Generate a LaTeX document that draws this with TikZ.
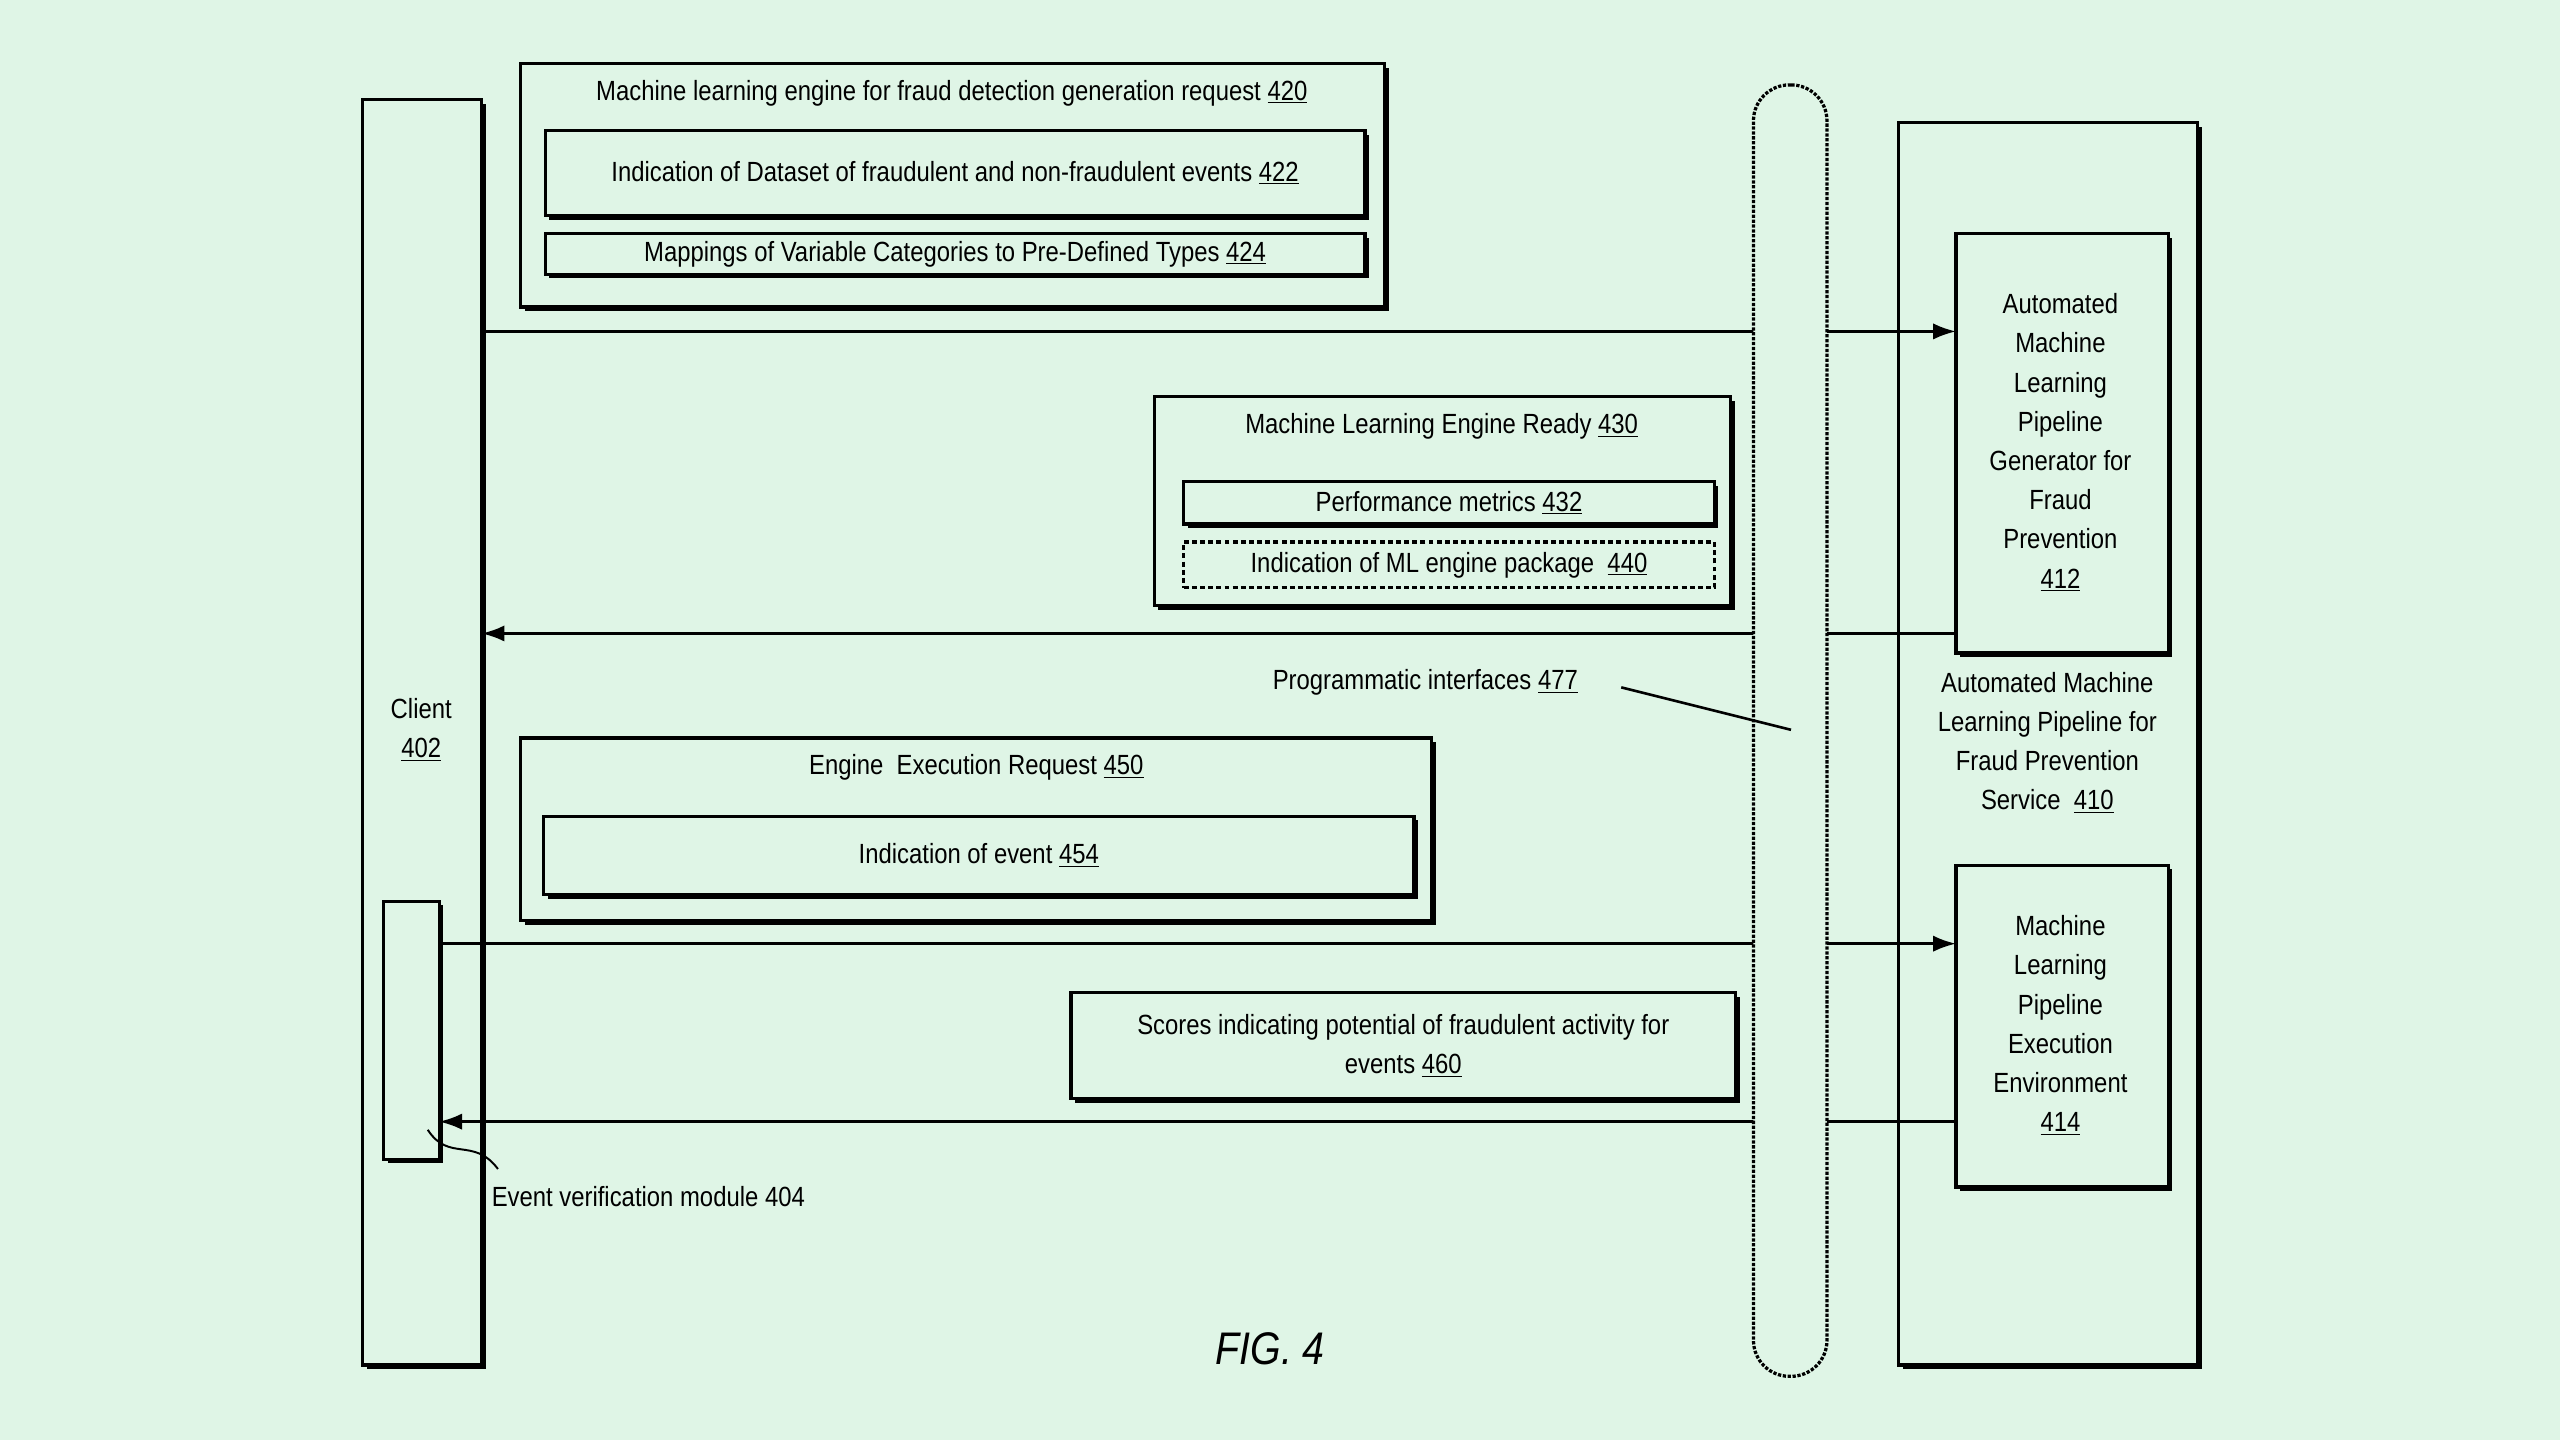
\documentclass[tikz,border=0pt]{standalone}
\usepackage{fontspec}
\setmainfont{Liberation Sans}[FakeStretch=0.86]
\usetikzlibrary{shadows,arrows.meta}
\definecolor{bg}{HTML}{DFF5E6}
\newcommand{\num}[1]{\underline{#1}}
\begin{document}
\begin{tikzpicture}[x=1pt,y=-1pt]
\tikzset{ >={Latex[length=14pt,width=10pt]},
  box/.style={draw, line width=2pt, fill=bg, drop shadow={shadow xshift=2.5pt, shadow yshift=-2.5pt, fill=black, opacity=1}},
  lbl/.style={font=\fontsize{17}{24}\selectfont, align=center, inner sep=0pt},
  msg/.style={->, line width=1.6pt},
}
\fill [bg] (0,0) rectangle (1568,882);

% lifelines
\node [box, minimum width=73pt, minimum height=775pt] (C) at (258.5,448.5) {};
\node [box, minimum width=183pt, minimum height=761pt] (S) at (1254.5,455.5) {};
\node [box, minimum width=34pt, minimum height=158pt] (EV) at (252,631) {};

\node [lbl] at (258,447) {Client\\\num{402}};
\node [lbl] at (1254,455) {Automated Machine\\Learning Pipeline for\\Fraud Prevention\\Service\ \ \num{410}};

\node [box, minimum width=130pt, minimum height=257pt] (P) at (1263,271.5) {};
\node [lbl] at (1262,271) {Automated\\Machine\\Learning\\Pipeline\\Generator for\\Fraud\\Prevention\\\num{412}};
\node [box, minimum width=130pt, minimum height=197pt] (E) at (1263,628.5) {};
\node [lbl] at (1262,628) {Machine\\Learning\\Pipeline\\Execution\\Environment\\\num{414}};

% messages
\coordinate (c1) at (295,203);
\coordinate (p1) at (1198,203);
\draw [msg] (c1) -- (p1);
\coordinate (c2) at (295,388);
\coordinate (p2) at (1198,388);
\draw [msg] (p2) -- (c2);
\coordinate (c3) at (269,578);
\coordinate (p3) at (1198,578);
\draw [msg] (c3) -- (p3);
\coordinate (c4) at (269,687);
\coordinate (p4) at (1198,687);
\draw [msg] (p4) -- (c4);

% interfaces
\node [draw, densely dotted, line width=2pt, fill=bg, rounded corners=22pt, minimum width=45pt, minimum height=791pt] (I) at (1096.5,447.5) {};
\node [lbl] (IL) at (873,418) {Programmatic interfaces \num{477}};
\coordinate (i1) at (993,421);
\coordinate (i2) at (1097,447);
\draw [line width=1.6pt] (i1) -- (i2);

% request 420
\node [box, minimum width=529pt, minimum height=149pt] (R) at (583.5,113.5) {};
\node [lbl] at (583,57) {Machine learning engine for fraud detection generation request \num{420}};
\node [box, minimum width=502pt, minimum height=52pt, lbl] (D) at (585,106) {Indication of Dataset of fraudulent and non-fraudulent events \num{422}};
\node [box, minimum width=502pt, minimum height=25pt, lbl] (M) at (585,155.5) {Mappings of Variable Categories to Pre-Defined Types \num{424}};

% ready 430
\node [box, minimum width=353pt, minimum height=128pt] (RD) at (883.5,307) {};
\node [lbl] at (883,261) {Machine Learning Engine Ready \num{430}};
\node [box, minimum width=325pt, minimum height=26pt, lbl] (PM) at (887.5,308) {Performance metrics \num{432}};
\node [draw, densely dashed, line width=2pt, fill=bg, minimum width=325pt, minimum height=28pt, lbl] (PK) at (887.5,346) {Indication of ML engine package\ \ \num{440}};

% execution 450
\node [box, minimum width=558pt, minimum height=112pt] (X) at (598,508) {};
\node [lbl] at (598,470) {Engine\ \ Execution Request \num{450}};
\node [box, minimum width=533pt, minimum height=48pt, lbl] (EI) at (599.5,524) {Indication of event \num{454}};

% scores 460
\node [box, minimum width=407pt, minimum height=65pt, lbl] (SC) at (859.5,640.5) {Scores indicating potential of fraudulent activity for\\events \num{460}};

% module label
\node [lbl, anchor=west] (EVL) at (301,733) {Event verification module 404};
\coordinate (e1) at (262,692);
\coordinate (e2) at (305,716);
\draw [line width=1.2pt] (e1) .. controls (275,712) and (290,696) .. (e2);

\node [lbl, font=\fontsize{28}{30}\selectfont\itshape] at (778,826) {FIG. 4};
\end{tikzpicture}
\end{document}
